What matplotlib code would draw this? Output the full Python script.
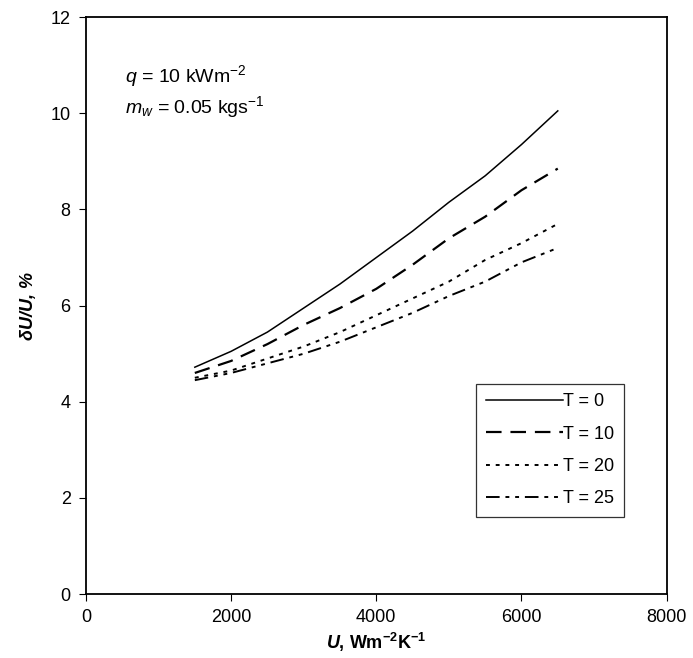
import matplotlib
matplotlib.use('Agg')
import matplotlib.pyplot as plt

plt.rcParams['font.family'] = ['Liberation Sans', 'DejaVu Sans']
plt.rcParams['mathtext.fontset'] = 'custom'
plt.rcParams['mathtext.rm'] = 'Liberation Sans'
plt.rcParams['mathtext.it'] = 'Liberation Sans:italic'
plt.rcParams['mathtext.bf'] = 'Liberation Sans:bold'
plt.rcParams['mathtext.bfit'] = 'Liberation Sans:bold:italic'

# U values, W m-2 K-1
U = [1500, 2000, 2500, 3000, 3500, 4000, 4500, 5000, 5500, 6000, 6500]

# relative uncertainty dU/U in %
dU_T0 = [4.72, 5.05, 5.45, 5.95, 6.45, 7.0, 7.55, 8.15, 8.7, 9.35, 10.05]
dU_T10 = [4.6, 4.85, 5.2, 5.6, 5.95, 6.35, 6.85, 7.4, 7.85, 8.4, 8.85]
dU_T20 = [4.5, 4.65, 4.9, 5.15, 5.45, 5.8, 6.15, 6.5, 6.95, 7.3, 7.7]
dU_T25 = [4.45, 4.6, 4.8, 5.0, 5.25, 5.55, 5.85, 6.2, 6.5, 6.9, 7.2]

labels = ['T = 0', 'T = 10', 'T = 20', 'T = 25']

fig = plt.figure(figsize=(6.93, 6.58), dpi=100)
ax = fig.add_axes([0.124, 0.097, 0.838, 0.877])

ax.plot(U, dU_T0, color='black', lw=1.1, label=labels[0])
ax.plot(U, dU_T10, color='black', lw=1.6, dashes=(7, 4), label=labels[1])
ax.plot(U, dU_T20, color='black', lw=1.4, dashes=(2, 3), label=labels[2])
ax.plot(U, dU_T25, color='black', lw=1.4, dashes=(7, 3, 2, 3, 2, 3), label=labels[3])

ax.set_xlim(0, 8000)
ax.set_ylim(0, 12)
ax.set_xticks([0, 2000, 4000, 6000, 8000])
ax.set_yticks([0, 2, 4, 6, 8, 10, 12])
ax.tick_params(direction='out', length=5, labelsize=13, top=False, right=False, pad=6)
for s in ax.spines.values():
    s.set_linewidth(1.3)

ax.set_xlabel(r'$\boldsymbol{U}$, Wm$^{\mathbf{-2}}$K$^{\mathbf{-1}}$', fontsize=13,
              fontweight='bold', labelpad=3)
ax.set_ylabel('δU/U, %', fontsize=13, fontweight='bold', style='italic', labelpad=10)

ax.text(540, 10.78, r'$q$ = 10 kWm$^{-2}$', fontsize=14, va='center')
ax.text(540, 10.12, r'$m_w$ = 0.05 kgs$^{-1}$', fontsize=14, va='center')

leg = ax.legend(loc='lower right', bbox_to_anchor=(0.927, 0.133), fontsize=13,
                frameon=True, fancybox=False, edgecolor='black',
                handlelength=4.3, handletextpad=0.0, labelspacing=0.85,
                borderpad=0.55, borderaxespad=0)
leg.get_frame().set_linewidth(0.9)

fig.savefig('out.png', dpi=100)
